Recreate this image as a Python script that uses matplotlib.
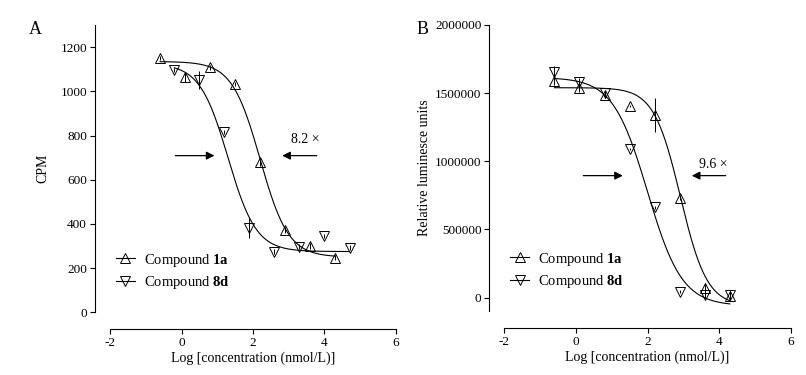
import numpy as np
import matplotlib
matplotlib.use("Agg")
import matplotlib.pyplot as plt
from matplotlib.lines import Line2D

plt.rcParams["font.family"] = "Liberation Serif"
plt.rcParams["mathtext.fontset"] = "custom"
plt.rcParams["mathtext.rm"] = "Liberation Serif"
plt.rcParams["mathtext.bf"] = "Liberation Serif:bold"
plt.rcParams["axes.unicode_minus"] = False

# panel A data (CPM)
logc_a = [-0.6, 0.1, 0.8, 1.5, 2.2, 2.9, 3.6, 4.3]
cpm_1a = [1150, 1063, 1108, 1032, 679, 373, 300, 248]
err_1a = [10, 20, 10, 10, 15, 15, 15, 10]
logc_a8 = [-0.2, 0.5, 1.2, 1.9, 2.6, 3.3, 4.0, 4.7]
cpm_8d = [1097, 1052, 815, 383, 275, 297, 346, 293]
err_8d = [10, 40, 10, 45, 10, 10, 10, 10]

# panel B data (RLU)
logc_b = [-0.6, 0.1, 0.8, 1.5, 2.2, 2.9, 3.6, 4.3]
rlu_1a = [1589000, 1535000, 1487000, 1406000, 1340000, 729000, 68000, 12000]
rlue_1a = [30000, 30000, 20000, 10000, 128000, 10000, 40000, 30000]
rlu_8d = [1658000, 1584000, 1499000, 1090000, 663000, 44000, 20000, 20000]
rlue_8d = [40000, 30000, 20000, 10000, 10000, 10000, 20000, 30000]

# fitted sigmoid parameters: top, bottom, logIC50, hill
fit_a_1a = (1135, 250, 2.2, 1.1)
fit_a_8d = (1125, 275, 1.3, 1.1)
fit_b_1a = (1540000, -60000, 2.92, 1.17)
fit_b_8d = (1615000, -60000, 2.0, 0.9)


def sigmoid(x, p):
    top, bottom, ic50, hill = p
    return bottom + (top - bottom) / (1 + 10 ** ((x - ic50) * hill))


def style_axes(ax, ylo, yhi, yticks):
    ax.set_xlim(-2, 6)
    ax.set_ylim(ylo, yhi)
    for s in ["top", "right"]:
        ax.spines[s].set_visible(False)
    ax.spines["left"].set_position(("outward", 11))
    ax.spines["bottom"].set_position(("outward", 12))
    ax.spines["left"].set_bounds(ylo, yhi)
    ax.spines["bottom"].set_bounds(-2, 6)
    ax.set_xticks([-2, 0, 2, 4, 6])
    ax.set_yticks(yticks)
    ax.tick_params(direction="out", length=3.5, width=0.8, labelsize=9.5, pad=2)
    for s in ["left", "bottom"]:
        ax.spines[s].set_linewidth(0.8)
    ax.set_xlabel("Log [concentration (nmol/L)]", fontsize=10, labelpad=2)


def draw_series(ax, x, y, e, mk, fit, x0, x1):
    ax.errorbar(x, y, yerr=e, fmt="none", ecolor="black", elinewidth=0.7, capsize=0)
    ax.plot(x, y, ls="none", marker=mk, ms=7, mfc="none", mec="black", mew=0.7)
    xs = np.linspace(x0, x1, 300)
    ax.plot(xs, sigmoid(xs, fit), color="black", lw=0.8)


def legend(ax):
    h = [Line2D([], [], color="black", lw=0.8, marker="^", ms=7, mfc="none", mew=0.7),
         Line2D([], [], color="black", lw=0.8, marker="v", ms=7, mfc="none", mew=0.7)]
    ax.legend(h, ["Compound $\\mathbf{1a}$", "Compound $\\mathbf{8d}$"],
              loc="lower left", bbox_to_anchor=(0.0, 0.055), frameon=False,
              fontsize=10.5, handlelength=1.3, handletextpad=0.6, labelspacing=0.35,
              borderaxespad=0)


fig = plt.figure(figsize=(8.06, 3.75), dpi=100)

# panel A
ax1 = fig.add_axes([0.1365, 0.1672, 0.3548, 0.766])
style_axes(ax1, 0, 1300, [0, 200, 400, 600, 800, 1000, 1200])
draw_series(ax1, logc_a, cpm_1a, err_1a, "^", fit_a_1a, -0.6, 4.3)
draw_series(ax1, logc_a8, cpm_8d, err_8d, "v", fit_a_8d, -0.2, 4.7)
ax1.set_ylabel("CPM", fontsize=10, labelpad=8)
ax1.annotate("", xy=(1.0, 709), xytext=(-0.25, 709),
             arrowprops=dict(arrowstyle="-|>", color="black", lw=0.9, mutation_scale=12))
ax1.annotate("", xy=(2.74, 709), xytext=(3.86, 709),
             arrowprops=dict(arrowstyle="-|>", color="black", lw=0.9, mutation_scale=12))
ax1.text(3.45, 780, "8.2 \u00d7", fontsize=10, ha="center", va="center")
legend(ax1)
fig.text(35 / 806, 1 - 30 / 375, "A", fontsize=13, ha="center", va="center")

# panel B
ax2 = fig.add_axes([0.6257, 0.1699, 0.3553, 0.7635])
style_axes(ax2, -100000, 2000000, [0, 500000, 1000000, 1500000, 2000000])
ax2.yaxis.set_major_formatter(matplotlib.ticker.FormatStrFormatter("%d"))
draw_series(ax2, logc_b, rlu_1a, rlue_1a, "^", fit_b_1a, -0.6, 4.3)
draw_series(ax2, logc_b, rlu_8d, rlue_8d, "v", fit_b_8d, -0.6, 4.3)
ax2.set_ylabel("Relative luminesce units", fontsize=10, labelpad=3)
ax2.annotate("", xy=(1.39, 895000), xytext=(0.13, 895000),
             arrowprops=dict(arrowstyle="-|>", color="black", lw=0.9, mutation_scale=12))
ax2.annotate("", xy=(3.16, 895000), xytext=(4.26, 895000),
             arrowprops=dict(arrowstyle="-|>", color="black", lw=0.9, mutation_scale=12))
ax2.text(3.85, 980000, "9.6 \u00d7", fontsize=10, ha="center", va="center")
legend(ax2)
fig.text(423 / 806, 1 - 29 / 375, "B", fontsize=13, ha="center", va="center")

fig.savefig("out.png", dpi=100)
